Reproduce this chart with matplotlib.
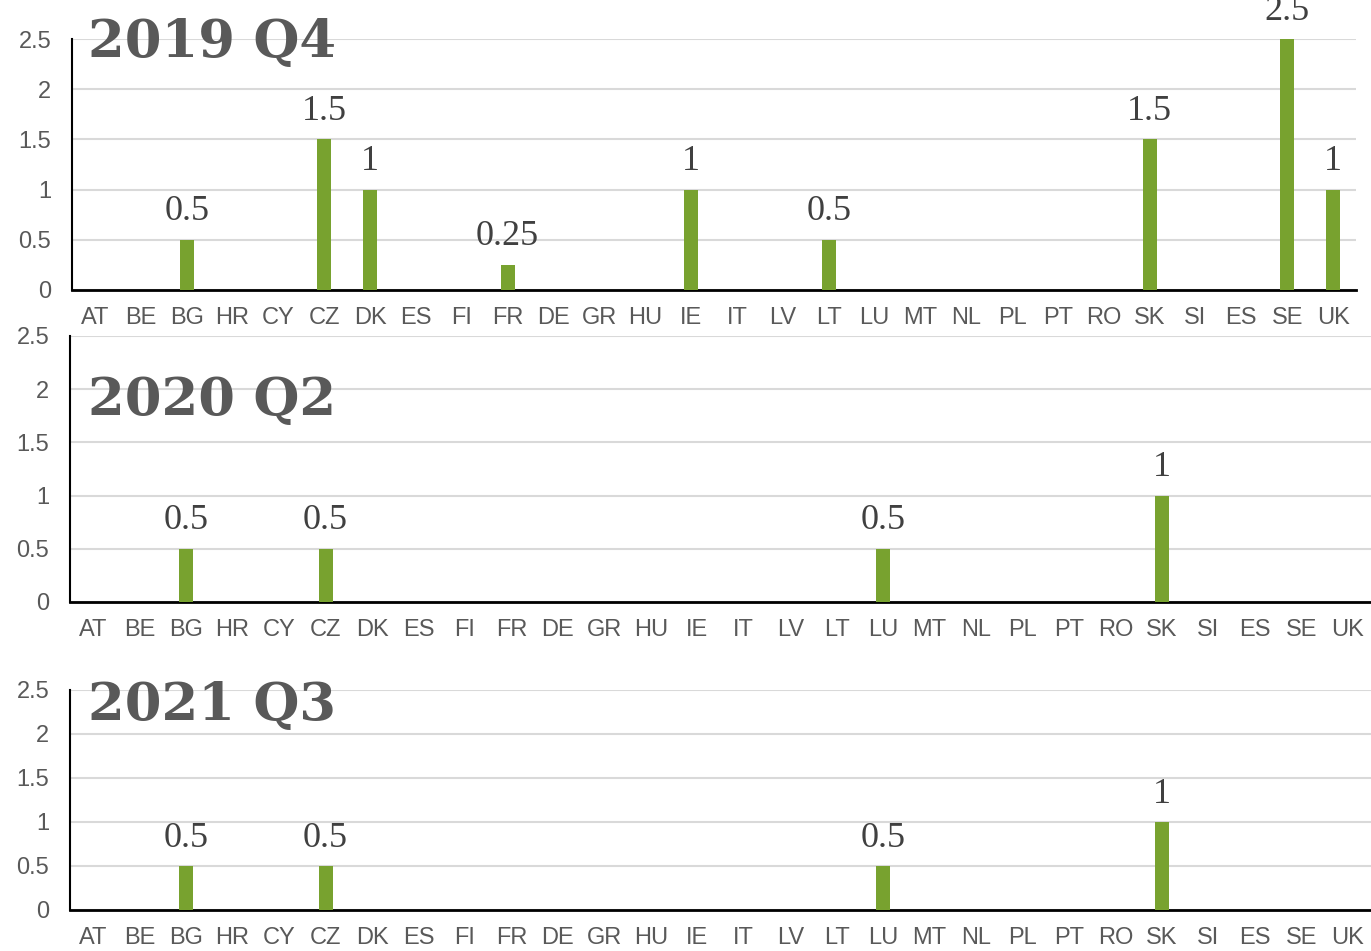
import matplotlib.pyplot as plt

# Country codes along the x axis (ES appears twice in the source chart)
countries = ["AT", "BE", "BG", "HR", "CY", "CZ", "DK", "ES", "FI", "FR", "DE", "GR", "HU", "IE",
             "IT", "LV", "LT", "LU", "MT", "NL", "PL", "PT", "RO", "SK", "SI", "ES", "SE", "UK"]

q4_2019 = [0, 0, 0.5, 0, 0, 1.5, 1, 0, 0, 0.25, 0, 0, 0, 1,
           0, 0, 0.5, 0, 0, 0, 0, 0, 0, 1.5, 0, 0, 2.5, 1]
q2_2020 = [0, 0, 0.5, 0, 0, 0.5, 0, 0, 0, 0, 0, 0, 0, 0,
           0, 0, 0, 0.5, 0, 0, 0, 0, 0, 1, 0, 0, 0, 0]
q3_2021 = [0, 0, 0.5, 0, 0, 0.5, 0, 0, 0, 0, 0, 0, 0, 0,
           0, 0, 0, 0.5, 0, 0, 0, 0, 0, 1, 0, 0, 0, 0]

titles = ["2019 Q4", "2020 Q2", "2021 Q3"]
series = [q4_2019, q2_2020, q3_2021]

yticks = [0, 0.5, 1, 1.5, 2, 2.5]

W, H = 1371, 951
fig = plt.figure(figsize=(W / 100, H / 100), dpi=100)

# panel boxes in pixels: left, right, top, bottom ; title baseline
boxes = [(72, 1356, 39, 290, 57),
         (70, 1371, 336, 602, 415),
         (70, 1371, 690, 910, 720)]

green = "#78a22f"
grey = "#595959"

for vals, title, (l, r, t, b, base) in zip(series, titles, boxes):
    ax = fig.add_axes([l / W, 1 - b / H, (r - l) / W, (b - t) / H])
    x = list(range(len(countries)))
    ax.bar(x, vals, width=0.3, color=green, zorder=3)
    for xi, v in zip(x, vals):
        if v > 0:
            ax.annotate(f"{v:g}", (xi, v), xytext=(0, 14), textcoords="offset points",
                        ha="center", va="baseline", fontsize=26,
                        family="Liberation Serif", color="#404040", annotation_clip=False)
    ax.set_xlim(-0.5, len(countries) - 0.5)
    ax.set_ylim(0, 2.5)
    ax.set_yticks(yticks)
    ax.set_yticklabels([f"{v:g}" for v in yticks])
    ax.set_xticks(x)
    ax.set_xticklabels(countries)
    ax.grid(axis="y", color="#d9d9d9", lw=1.5, zorder=0)
    ax.set_axisbelow(True)
    for s in ["top", "right"]:
        ax.spines[s].set_visible(False)
    ax.spines["left"].set_color("black")
    ax.spines["bottom"].set_color("black")
    ax.spines["left"].set_linewidth(1.5)
    ax.spines["bottom"].set_linewidth(2)
    ax.tick_params(axis="both", length=0, labelsize=17, labelcolor=grey)
    ax.tick_params(axis="x", pad=12)
    ax.tick_params(axis="y", pad=15)
    for lab in ax.get_xticklabels() + ax.get_yticklabels():
        lab.set_family("Liberation Sans")
    fig.text(88 / W, 1 - base / H, title, fontsize=38, fontweight="bold",
             family="DejaVu Serif", color=grey, ha="left", va="baseline")

fig.savefig("out.png", dpi=100)
